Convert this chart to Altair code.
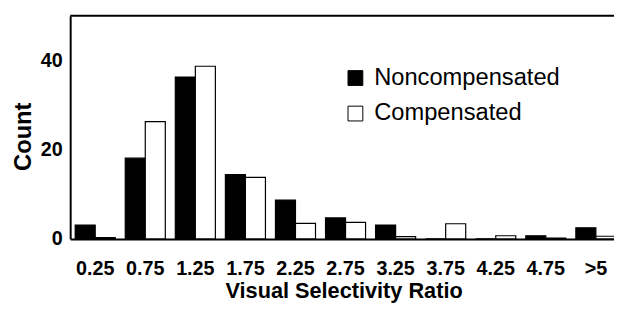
import altair as alt
import pandas as pd

bins = ["0.25", "0.75", "1.25", "1.75", "2.25", "2.75", "3.25", "3.75", "4.25", "4.75", ">5"]
noncompensated = [3.1, 18.1, 36.3, 14.4, 8.7, 4.7, 3.1, 0.0, 0.0, 0.7, 2.5]
compensated = [0.3, 26.3, 38.7, 13.8, 3.5, 3.7, 0.5, 3.4, 0.7, 0.2, 0.6]
series = ["Noncompensated", "Compensated"]
y_ticks = [0, 20, 40]

rows = []
for b, n, c in zip(bins, noncompensated, compensated):
    rows.append({"bin": b, "series": series[0], "count": n})
    rows.append({"bin": b, "series": series[1], "count": c})
df = pd.DataFrame(rows)

W, H = 551, 226
XR = 558
FONT = "Liberation Sans"

bars = alt.Chart(df).mark_bar(stroke="black", strokeWidth=1.2, strokeOpacity=1).encode(
    x=alt.X(
        "bin:N",
        sort=bins,
        scale=alt.Scale(paddingInner=0.2, paddingOuter=0.1, range=[0, XR]),
        axis=alt.Axis(
            title="Visual Selectivity Ratio",
            titleX=277,
            labelAngle=0,
            ticks=False,
            labelFontSize=20,
            labelFontWeight="bold",
            labelPadding=20,
            titleFontSize=22,
            titleFontWeight="bold",
            titlePadding=2,
            domainColor="black",
            domainWidth=2,
        ),
    ),
    xOffset=alt.XOffset("series:N", sort=series, scale=alt.Scale(domain=series)),
    y=alt.Y(
        "count:Q",
        scale=alt.Scale(domain=[0, 50], nice=False),
        axis=alt.Axis(
            values=y_ticks,
            title="Count",
            grid=False,
            ticks=False,
            labelFontSize=20,
            labelFontWeight="bold",
            labelPadding=8,
            titleFontSize=24,
            titleFontWeight="bold",
            titlePadding=5,
            titleY=122,
            domainColor="black",
            domainWidth=2,
        ),
    ),
    color=alt.Color(
        "series:N",
        sort=series,
        scale=alt.Scale(domain=series, range=["black", "white"]),
        legend=alt.Legend(
            title=None,
            orient="none",
            legendX=277,
            legendY=51,
            symbolType="square",
            symbolSize=225,
            symbolStrokeColor="black",
            symbolStrokeWidth=1,
            symbolOpacity=1,
            labelFontSize=24,
            labelFont=FONT,
            labelColor="black",
            labelOffset=7,
            labelLimit=400,
            rowPadding=12,
        ),
    ),
)

top = alt.Chart(pd.DataFrame({"y": [50]})).mark_rule(color="black", strokeWidth=2).encode(
    y="y:Q", x=alt.value(0), x2=alt.value(XR)
)

chart = (
    alt.layer(bars, top)
    .properties(
        width=W,
        height=H,
        autosize=alt.AutoSizeParams(type="none"),
        padding={"left": 63, "top": 6, "right": 0, "bottom": 64},
        background="white",
    )
    .configure_view(stroke=None)
    .configure_axis(labelFont=FONT, titleFont=FONT, labelColor="black", titleColor="black")
)

chart.save("out.html", embed_options={"renderer": "svg", "actions": False})
